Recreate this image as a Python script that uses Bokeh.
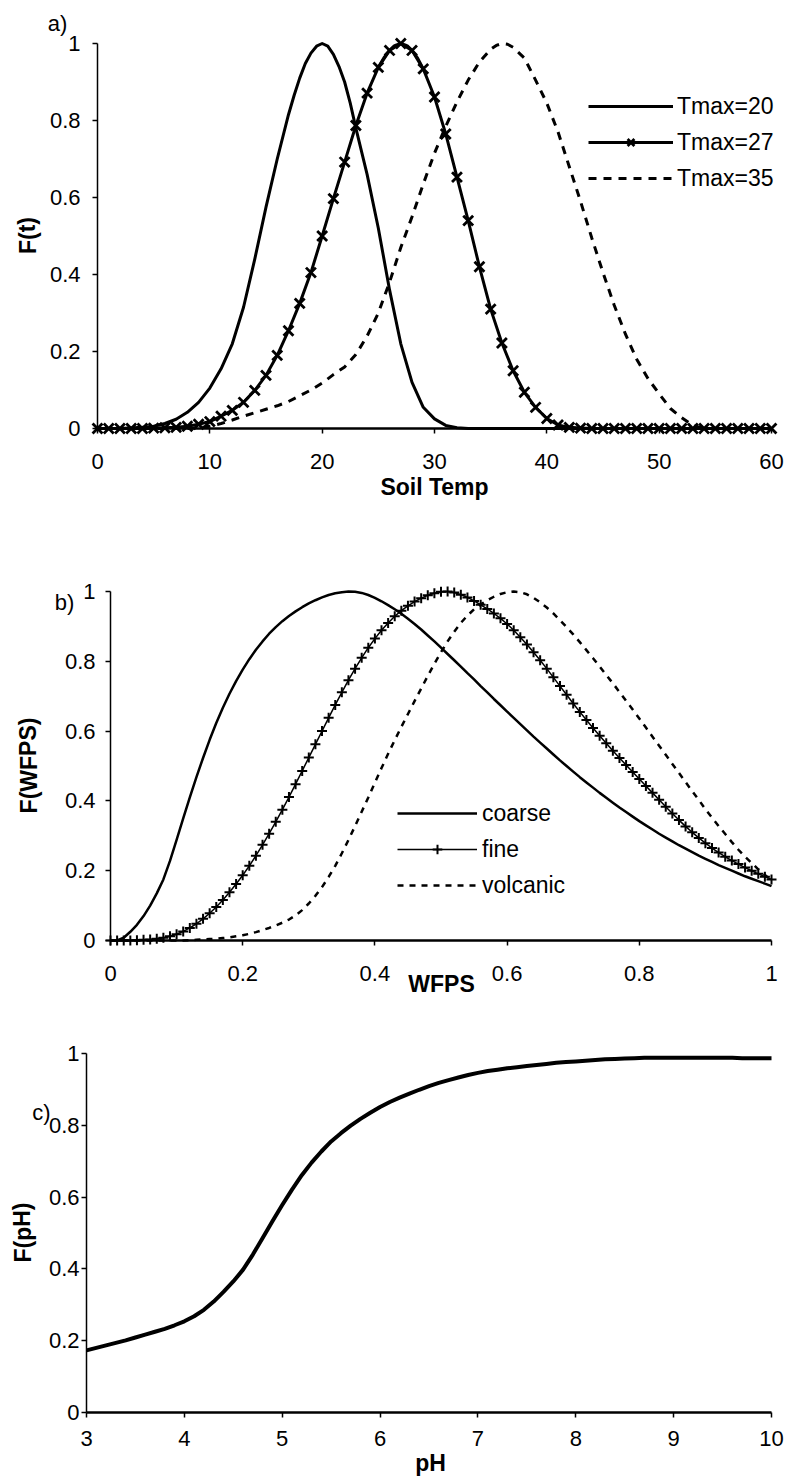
from bokeh.plotting import figure
from bokeh.layouts import column
from bokeh.models import Range1d, FixedTicker, CustomJSTickFormatter, Label, Legend, LegendItem
from bokeh.embed import file_html
from bokeh.resources import INLINE

FONT = "Liberation Sans"

# ---------------- panel a : temperature function ----------------
soil_temp = [0, 1, 2, 3, 4, 5, 6, 7, 8, 9, 10, 11, 12, 13, 14, 15, 16, 17, 18, 19, 20,
             21, 22, 23, 24, 25, 26, 27, 28, 29, 30, 31, 32, 33, 34, 35, 36, 37, 38, 39, 40,
             41, 42, 43, 44, 45, 46, 47, 48, 49, 50, 51, 52, 53, 54, 55, 56, 57, 58, 59, 60]
# Tmax=20 (solid, no markers)
t20 = [0, 2, 4, 5, 6, 7, 8, 9, 10, 11, 12, 13, 14, 15, 16, 17, 17.5, 18, 18.5, 19, 19.5,
       20, 20.5, 21, 21.5, 22, 22.5, 23, 24, 25, 26, 27, 28, 29, 30, 31, 32, 33, 35,
       40, 45, 50, 55, 60]
f_tmax20 = [0, 0, 0.003, 0.006, 0.013, 0.024, 0.042, 0.068, 0.105, 0.155, 0.22, 0.315,
            0.44, 0.575, 0.7, 0.815, 0.865, 0.91, 0.948, 0.975, 0.993,
            1.0, 0.993, 0.972, 0.94, 0.9, 0.845, 0.78, 0.66, 0.52, 0.36, 0.22, 0.12,
            0.055, 0.025, 0.008, 0.002, 0, 0, 0, 0, 0, 0, 0]
# Tmax=27 (solid with x markers at every degree)
f_tmax27 = [0, 0, 0, 0, 0, 0.001, 0.002, 0.003, 0.006, 0.011, 0.018,
            0.032, 0.047, 0.068, 0.099, 0.138, 0.19, 0.254, 0.325, 0.405, 0.5,
            0.597, 0.692, 0.787, 0.871, 0.938, 0.982, 1.0, 0.982, 0.934, 0.861,
            0.765, 0.653, 0.54, 0.42, 0.31, 0.222, 0.15, 0.094, 0.055, 0.026,
            0.009, 0.003, 0.001, 0, 0, 0, 0, 0, 0, 0,
            0, 0, 0, 0, 0, 0, 0, 0, 0, 0]
t27_peak = [25, 25.5, 26, 26.5, 27, 27.5, 28, 28.5, 29]
f27_peak = [0.938, 0.963, 0.982, 0.995, 1.0, 0.995, 0.982, 0.962, 0.934]
# Tmax=35 (dashed)
t35 = [0, 5, 8, 9, 10, 11, 12, 13, 14, 15, 16, 17, 18, 19, 20, 21, 22, 23, 24, 25, 26,
       27, 28, 29, 30, 31, 32, 33, 34, 35, 35.5, 36, 36.5, 37, 38, 39, 40, 41, 42, 43,
       44, 45, 46, 47, 48, 49, 50, 51, 52, 53, 54, 57, 60]
f_tmax35 = [0, 0, 0, 0.002, 0.006, 0.013, 0.022, 0.032, 0.041, 0.05, 0.059, 0.07, 0.085,
            0.1, 0.118, 0.14, 0.16, 0.192, 0.24, 0.3, 0.38,
            0.47, 0.55, 0.635, 0.715, 0.785, 0.848, 0.905, 0.952, 0.985, 0.995, 1.0,
            0.998, 0.99, 0.962, 0.905, 0.845, 0.77, 0.68, 0.59,
            0.495, 0.405, 0.32, 0.245, 0.18, 0.13, 0.09, 0.052, 0.028, 0.008, 0, 0, 0]
temp_ticks = [0, 10, 20, 30, 40, 50, 60]

# ---------------- panel b : WFPS function ----------------
wfps = [0.0, 0.01, 0.02, 0.03, 0.04, 0.05, 0.06, 0.07, 0.08, 0.09,
        0.1, 0.11, 0.12, 0.13, 0.14, 0.15, 0.16, 0.17, 0.18, 0.19,
        0.2, 0.21, 0.22, 0.23, 0.24, 0.25, 0.26, 0.27, 0.28, 0.29,
        0.3, 0.31, 0.32, 0.33, 0.34, 0.35, 0.36, 0.37, 0.38, 0.39,
        0.4, 0.41, 0.42, 0.43, 0.44, 0.45, 0.46, 0.47, 0.48, 0.49,
        0.5, 0.51, 0.52, 0.53, 0.54, 0.55, 0.56, 0.57, 0.58, 0.59,
        0.6, 0.61, 0.62, 0.63, 0.64, 0.65, 0.66, 0.67, 0.68, 0.69,
        0.7, 0.71, 0.72, 0.73, 0.74, 0.75, 0.76, 0.77, 0.78, 0.79,
        0.8, 0.81, 0.82, 0.83, 0.84, 0.85, 0.86, 0.87, 0.88, 0.89,
        0.9, 0.91, 0.92, 0.93, 0.94, 0.95, 0.96, 0.97, 0.98, 0.99, 1.0]
f_coarse = [0, 0, 0.008, 0.025, 0.045, 0.07, 0.1, 0.135, 0.175, 0.228,
            0.288, 0.35, 0.41, 0.468, 0.523, 0.575, 0.623, 0.667, 0.707, 0.743,
            0.776, 0.806, 0.833, 0.857, 0.879, 0.898, 0.915, 0.93, 0.943, 0.955,
            0.966, 0.975, 0.983, 0.99, 0.995, 0.998, 1.0, 0.999, 0.996, 0.99,
            0.982, 0.972, 0.961, 0.949, 0.936, 0.922, 0.907, 0.891, 0.874, 0.857,
            0.839, 0.821, 0.803, 0.785, 0.766, 0.748, 0.729, 0.711, 0.692, 0.674,
            0.656, 0.638, 0.62, 0.602, 0.584, 0.567, 0.55, 0.533, 0.516, 0.5,
            0.484, 0.468, 0.453, 0.438, 0.423, 0.409, 0.395, 0.381, 0.368, 0.355,
            0.342, 0.33, 0.318, 0.306, 0.295, 0.284, 0.273, 0.263, 0.253, 0.243,
            0.234, 0.225, 0.216, 0.208, 0.2, 0.192, 0.184, 0.177, 0.17, 0.163, 0.156]
f_fine = [0, 0, 0, 0, 0.001, 0.002, 0.003, 0.005, 0.008, 0.012,
          0.018, 0.026, 0.036, 0.048, 0.062, 0.078, 0.096, 0.116, 0.138, 0.162,
          0.187, 0.214, 0.243, 0.274, 0.306, 0.34, 0.375, 0.411, 0.448, 0.486,
          0.524, 0.562, 0.6, 0.638, 0.675, 0.711, 0.746, 0.779, 0.81, 0.839,
          0.865, 0.889, 0.91, 0.929, 0.945, 0.959, 0.971, 0.981, 0.989, 0.995,
          0.999, 1.0, 0.997, 0.991, 0.983, 0.973, 0.962, 0.95, 0.937, 0.923,
          0.907, 0.889, 0.869, 0.848, 0.826, 0.803, 0.779, 0.754, 0.729, 0.704,
          0.679, 0.655, 0.632, 0.609, 0.587, 0.565, 0.544, 0.523, 0.503, 0.483,
          0.463, 0.443, 0.423, 0.403, 0.383, 0.364, 0.345, 0.327, 0.31, 0.294,
          0.279, 0.265, 0.252, 0.24, 0.229, 0.219, 0.209, 0.2, 0.191, 0.183, 0.175]
f_volcanic = [0, 0, 0, 0, 0, 0, 0, 0, 0, 0,
              0, 0, 0.001, 0.002, 0.003, 0.004, 0.005, 0.007, 0.009, 0.012,
              0.015, 0.019, 0.024, 0.03, 0.036, 0.043, 0.051, 0.06, 0.072, 0.087,
              0.106, 0.128, 0.153, 0.182, 0.214, 0.25, 0.288, 0.328, 0.369, 0.41,
              0.452, 0.494, 0.535, 0.574, 0.612, 0.649, 0.686, 0.722, 0.758, 0.793,
              0.826, 0.857, 0.885, 0.91, 0.931, 0.949, 0.963, 0.975, 0.985, 0.993,
              0.998, 1.0, 0.998, 0.992, 0.982, 0.969, 0.954, 0.937, 0.918, 0.898,
              0.877, 0.855, 0.832, 0.809, 0.785, 0.761, 0.737, 0.712, 0.687, 0.662,
              0.636, 0.61, 0.584, 0.558, 0.532, 0.506, 0.48, 0.454, 0.428, 0.403,
              0.376, 0.352, 0.328, 0.305, 0.282, 0.26, 0.24, 0.222, 0.204, 0.188, 0.172]
wfps_ticks = [0, 0.2, 0.4, 0.6, 0.8, 1]

# ---------------- panel c : pH function ----------------
ph = [3.0, 3.1, 3.2, 3.3, 3.4, 3.5, 3.6, 3.7, 3.8, 3.9,
      4.0, 4.1, 4.2, 4.3, 4.4, 4.5, 4.6, 4.7, 4.8, 4.9,
      5.0, 5.1, 5.2, 5.3, 5.4, 5.5, 5.6, 5.7, 5.8, 5.9,
      6.0, 6.1, 6.2, 6.3, 6.4, 6.5, 6.6, 6.7, 6.8, 6.9,
      7.0, 7.1, 7.2, 7.3, 7.4, 7.5, 7.6, 7.7, 7.8, 7.9,
      8.0, 8.1, 8.2, 8.3, 8.4, 8.5, 8.6, 8.7, 8.8, 8.9,
      9.0, 9.1, 9.2, 9.3, 9.4, 9.5, 9.6, 9.7, 9.8, 9.9, 10.0]
f_ph = [0.173, 0.18, 0.187, 0.194, 0.201, 0.209, 0.217, 0.225, 0.233, 0.243,
        0.254, 0.268, 0.286, 0.309, 0.336, 0.365, 0.398, 0.44, 0.486, 0.533,
        0.578, 0.621, 0.661, 0.696, 0.727, 0.755, 0.778, 0.799, 0.818, 0.835,
        0.851, 0.865, 0.877, 0.888, 0.899, 0.909, 0.918, 0.926, 0.933, 0.94,
        0.946, 0.951, 0.955, 0.959, 0.962, 0.965, 0.968, 0.971, 0.974, 0.976,
        0.978, 0.98, 0.982, 0.984, 0.985, 0.986, 0.987, 0.988, 0.988, 0.988,
        0.988, 0.988, 0.988, 0.988, 0.988, 0.988, 0.988, 0.987, 0.987, 0.987, 0.987]
ph_ticks = [3, 4, 5, 6, 7, 8, 9, 10]
f_ticks = [0, 0.2, 0.4, 0.6, 0.8, 1]

W = 788


def make_panel(H, page_top, ax, ay):
    """Frame covers the whole figure; ranges chosen so that the given data
    values land on the given page pixels."""
    xv0, px0, xv1, px1 = ax
    yv0, py0, yv1, py1 = ay
    sx = (px1 - px0) / (xv1 - xv0)
    sy = (py0 - py1) / (yv1 - yv0)
    fl, fr, ft, fb = 0, W, page_top, page_top + H
    x_start = xv0 - (px0 - fl) / sx
    x_end = xv0 + (fr - px0) / sx
    y_start = yv0 - (fb - py0) / sy
    y_end = yv0 + (py0 - ft) / sy
    p = figure(width=W, height=H,
               x_range=Range1d(x_start, x_end), y_range=Range1d(y_start, y_end),
               output_backend="svg", toolbar_location=None,
               min_border_left=0, min_border_right=0,
               min_border_top=0, min_border_bottom=0)
    p.outline_line_color = None
    p.grid.visible = False
    p.background_fill_color = "white"
    p.border_fill_color = "white"

    def to_data(px, py):
        return xv0 + (px - px0) / sx, yv0 + (py0 - py) / sy
    return p, to_data, fb


def style_axes(p, xticks, yticks, xb, yb, xfix, yfix, xstand, ystand, fmt_x):
    xa = p.xaxis[0]
    ya = p.yaxis[0]
    xa.ticker = FixedTicker(ticks=xticks, minor_ticks=[])
    ya.ticker = FixedTicker(ticks=yticks, minor_ticks=[])
    if fmt_x:
        xa.formatter = CustomJSTickFormatter(code="return String(Math.round(tick*10)/10);")
    ya.formatter = CustomJSTickFormatter(code="return String(Math.round(tick*10)/10);")
    xa.bounds = xb
    ya.bounds = yb
    xa.fixed_location = xfix
    ya.fixed_location = yfix
    for a in (xa, ya):
        a.axis_line_color = "black"
        a.major_tick_line_color = "black"
        a.major_tick_line_width = 1.5
        a.major_tick_in = 0
        a.major_tick_out = 5
        a.minor_tick_line_color = None
        a.major_label_text_font = FONT
        a.major_label_text_font_size = "22px"
        a.major_label_text_color = "black"
    xa.axis_line_width = 2.5
    ya.axis_line_width = 1.5
    xa.major_label_standoff = xstand
    ya.major_label_standoff = ystand


def add_text(p, x, y, text, size="22px", bold=False, angle=0.0):
    p.add_layout(Label(x=x, y=y, text=text, text_font=FONT, text_font_size=size,
                       text_font_style="bold" if bold else "normal",
                       text_align="center", text_baseline="middle", angle=angle,
                       text_color="black"))


def make_legend(items, left_px, bottom_px, frame_bottom, glyph_w, standoff):
    return Legend(items=items, location=(left_px, frame_bottom - bottom_px),
                  padding=0, spacing=9, margin=0,
                  glyph_width=glyph_w, glyph_height=24, label_height=24,
                  label_standoff=standoff, label_text_font=FONT,
                  label_text_font_size="23px", label_text_color="black",
                  border_line_color=None, background_fill_alpha=0)


# ================= panel a =================
pa, da, fba = make_panel(520, 0, (0, 97, 60, 771), (0, 428, 1, 43))
style_axes(pa, temp_ticks, f_ticks, (0, 60), (0, 1), 0, 0, 20, 12, False)
r20 = pa.line(t20, f_tmax20, line_color="black", line_width=3, line_join="round")
r27 = pa.line(soil_temp, f_tmax27, line_color="black", line_width=3, line_join="round")
pa.line(t27_peak, f27_peak, line_color="black", line_width=3, line_join="round")
s27 = pa.scatter(soil_temp, f_tmax27, marker="x", size=14, line_color="black", line_width=2.8)
r35 = pa.line(t35, f_tmax35, line_color="black", line_width=3, line_dash="8 7")
pa.add_layout(make_legend([LegendItem(label="Tmax=20", renderers=[r20]),
                           LegendItem(label="Tmax=27", renderers=[r27, s27]),
                           LegendItem(label="Tmax=35", renderers=[r35])],
                          588, 191.5, fba, 85, 4))
x, y = da(57, 23); add_text(pa, x, y, "a)")
x, y = da(434, 486); add_text(pa, x, y, "Soil Temp", size="23px", bold=True)
x, y = da(27, 235); add_text(pa, x, y, "F(t)", size="23px", bold=True, angle=1.5708)

# ================= panel b =================
pb, db, fbb = make_panel(490, 520, (0, 110, 1, 771), (0, 940, 1, 591))
style_axes(pb, wfps_ticks, f_ticks, (0, 1), (0, 1), 0, 0, 20, 10, True)
rc = pb.line(wfps, f_coarse, line_color="black", line_width=2.5, line_join="round")
rf = pb.line(wfps, f_fine, line_color="black", line_width=1.5, line_join="round")
sf = pb.scatter(wfps, f_fine, marker="cross", size=10, line_color="black", line_width=2)
rv = pb.line(wfps, f_volcanic, line_color="black", line_width=2.5, line_dash="6 6")
pb.add_layout(make_legend([LegendItem(label="coarse", renderers=[rc]),
                           LegendItem(label="fine", renderers=[rf, sf]),
                           LegendItem(label="volcanic", renderers=[rv])],
                          397, 898.5, fbb, 80, 5))
x, y = db(64, 602); add_text(pb, x, y, "b)")
x, y = db(441, 983); add_text(pb, x, y, "WFPS", size="23px", bold=True)
x, y = db(28, 765); add_text(pb, x, y, "F(WFPS)", size="23px", bold=True, angle=1.5708)

# ================= panel c =================
pc, dc, fbc = make_panel(468, 1010, (3, 86, 10, 771), (0, 1412, 1, 1053))
style_axes(pc, ph_ticks, f_ticks, (3, 10), (0, 1), 0, 3, 13, 2, False)
pc.line(ph, f_ph, line_color="black", line_width=4, line_join="round")
x, y = dc(41, 1112); add_text(pc, x, y, "c)")
x, y = dc(430, 1462); add_text(pc, x, y, "pH", size="23px", bold=True)
x, y = dc(22, 1232); add_text(pc, x, y, "F(pH)", size="23px", bold=True, angle=1.5708)

layout = column(pa, pb, pc, spacing=0)
open("out.html", "w").write(file_html(layout, INLINE))
